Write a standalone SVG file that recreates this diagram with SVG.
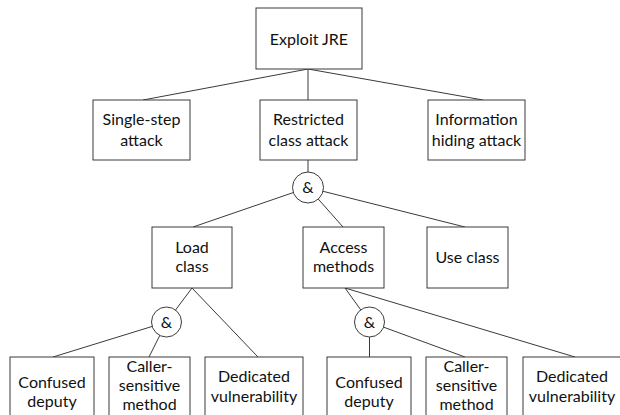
<svg xmlns="http://www.w3.org/2000/svg" width="620" height="415" viewBox="0 0 620 415">
<style>
.box{fill:#fff;stroke:#3a3a3a;stroke-width:1}
.gate{fill:#fff;stroke:#3a3a3a;stroke-width:1}
.edge{stroke:#3a3a3a;stroke-width:1;fill:none}
text{font-family:Lato,"Open Sans","Liberation Sans",sans-serif;font-size:16px;fill:#111;text-anchor:middle}
</style>
<rect width="620" height="415" fill="#fff"/>
<g id="connectors">
<line class="edge" x1="308" y1="69" x2="143" y2="100"/>
<line class="edge" x1="308" y1="69" x2="308" y2="100"/>
<line class="edge" x1="308" y1="69" x2="483" y2="100"/>
<line class="edge" x1="308" y1="160" x2="308" y2="172"/>
<line class="edge" x1="308" y1="187.5" x2="193" y2="227"/>
<line class="edge" x1="308" y1="187.5" x2="343" y2="227"/>
<line class="edge" x1="308" y1="187.5" x2="465" y2="227"/>
<line class="edge" x1="192" y1="288" x2="166.5" y2="322"/>
<line class="edge" x1="192" y1="288" x2="258" y2="357"/>
<line class="edge" x1="166.5" y1="322" x2="53" y2="357"/>
<line class="edge" x1="166.5" y1="322" x2="149" y2="357"/>
<line class="edge" x1="345" y1="288" x2="369.5" y2="322"/>
<line class="edge" x1="345" y1="288" x2="575" y2="357"/>
<line class="edge" x1="369.5" y1="322" x2="369.5" y2="357"/>
<line class="edge" x1="369.5" y1="322" x2="465" y2="357"/>
</g>
<g id="exploit-jre">
<rect class="box" x="256" y="8" width="106" height="61"/>
<text x="309" y="45">Exploit JRE</text>
</g>
<g id="single-step">
<rect class="box" x="93" y="100" width="97" height="60"/>
<text x="141.5" y="125">Single-step</text>
<text x="141.5" y="146">attack</text>
</g>
<g id="restricted">
<rect class="box" x="260" y="100" width="97" height="60"/>
<text x="308.5" y="125">Restricted</text>
<text x="308.5" y="146">class attack</text>
</g>
<g id="info-hiding">
<rect class="box" x="428" y="100" width="97" height="60"/>
<text x="476.5" y="125">Information</text>
<text x="476.5" y="146">hiding attack</text>
</g>
<g id="and-top">
<circle class="gate" cx="308" cy="187.5" r="15.5"/>
<text x="308" y="193">&amp;</text>
</g>
<g id="load-class">
<rect class="box" x="152" y="227" width="80" height="61"/>
<text x="192" y="253">Load</text>
<text x="192" y="272">class</text>
</g>
<g id="access-methods">
<rect class="box" x="303" y="227" width="81" height="61"/>
<text x="343.5" y="253">Access</text>
<text x="343.5" y="272">methods</text>
</g>
<g id="use-class">
<rect class="box" x="427" y="227" width="81" height="61"/>
<text x="467.5" y="263">Use class</text>
</g>
<g id="and-load">
<circle class="gate" cx="166.5" cy="322" r="15"/>
<text x="166.5" y="327.5">&amp;</text>
</g>
<g id="and-access">
<circle class="gate" cx="369.5" cy="322" r="15"/>
<text x="369.5" y="327.5">&amp;</text>
</g>
<g id="confused-1">
<rect class="box" x="10" y="357" width="84" height="70"/>
<text x="52" y="388">Confused</text>
<text x="52" y="407">deputy</text>
</g>
<g id="caller-1">
<rect class="box" x="109" y="357" width="81" height="70"/>
<text x="149.5" y="372">Caller-</text>
<text x="149.5" y="391">sensitive</text>
<text x="149.5" y="410">method</text>
</g>
<g id="dedicated-1">
<rect class="box" x="205" y="357" width="98" height="70"/>
<text x="254" y="382">Dedicated</text>
<text x="254" y="402">vulnerability</text>
</g>
<g id="confused-2">
<rect class="box" x="327" y="357" width="84" height="70"/>
<text x="369" y="388">Confused</text>
<text x="369" y="407">deputy</text>
</g>
<g id="caller-2">
<rect class="box" x="426" y="357" width="81" height="70"/>
<text x="466.5" y="372">Caller-</text>
<text x="466.5" y="391">sensitive</text>
<text x="466.5" y="410">method</text>
</g>
<g id="dedicated-2">
<rect class="box" x="523" y="357" width="98" height="70"/>
<text x="572" y="382">Dedicated</text>
<text x="572" y="402">vulnerability</text>
</g>
</svg>
